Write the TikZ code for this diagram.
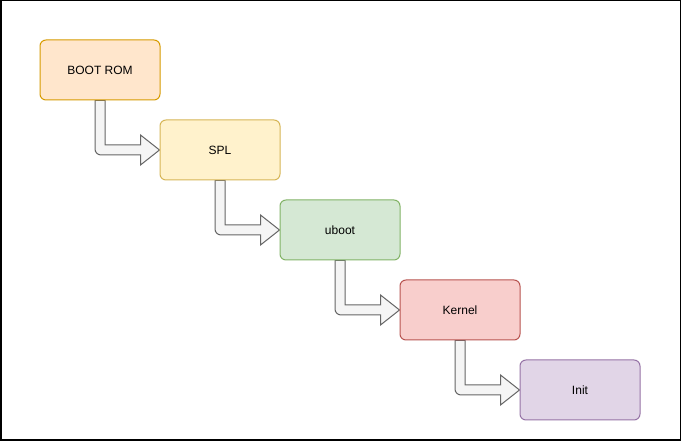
\documentclass[tikz,border=0pt]{standalone}
\usepackage{fontspec}
\setmainfont{Liberation Sans}
\usetikzlibrary{calc}
\definecolor{f1}{HTML}{FFE6CC}\definecolor{s1}{HTML}{D79B00}
\definecolor{f2}{HTML}{FFF2CC}\definecolor{s2}{HTML}{D6B656}
\definecolor{f3}{HTML}{D5E8D4}\definecolor{s3}{HTML}{82B366}
\definecolor{f4}{HTML}{F8CECC}\definecolor{s4}{HTML}{B85450}
\definecolor{f5}{HTML}{E1D5E7}\definecolor{s5}{HTML}{9673A6}
\definecolor{af}{HTML}{F5F5F5}\definecolor{as}{HTML}{666666}
\tikzset{
  stage/.style={draw, line width=1pt, rounded corners=6pt, minimum width=120pt, minimum height=60pt, inner sep=0pt, font=\fontsize{12}{14}\selectfont, text=black},
  flexarr/.style={fill=af, draw=as, line width=1pt, line join=miter},
}
\newcommand{\flexconn}[2]{%
  \path[flexarr] let \p1=(#1.south), \p2=(#2.west) in
    (\x1-5pt,\y1) -- (\x1-5pt,\y2-5pt+6pt)
    arc[start angle=180,end angle=270,radius=6pt]
    -- (\x2-19pt,\y2-5pt) -- (\x2-19pt,\y2-15pt) -- (\x2,\y2)
    -- (\x2-19pt,\y2+15pt) -- (\x2-19pt,\y2+5pt) -- (\x1+5pt,\y2+5pt)
    -- (\x1+5pt,\y1) -- cycle;}
\begin{document}
\begin{tikzpicture}[x=1pt,y=1pt]
\fill[white] (0,0) rectangle (681,441);
\useasboundingbox (0,0) rectangle (681,441);
\coordinate (c1) at (100,371);
\coordinate (c2) at (220,291);
\coordinate (c3) at (340,211);
\coordinate (c4) at (460,131);
\coordinate (c5) at (580,51);
% invisible placeholders for anchors
\path (c1) node[stage, draw=none] (bootrom) {}
      (c2) node[stage, draw=none] (spl) {}
      (c3) node[stage, draw=none] (uboot) {}
      (c4) node[stage, draw=none] (kernel) {}
      (c5) node[stage, draw=none] (init) {};
\flexconn{bootrom}{spl}
\flexconn{spl}{uboot}
\flexconn{uboot}{kernel}
\flexconn{kernel}{init}
\node[stage, fill=f1, draw=s1] at (c1) {BOOT ROM};
\node[stage, fill=f2, draw=s2] at (c2) {SPL};
\node[stage, fill=f3, draw=s3] at (c3) {uboot};
\node[stage, fill=f4, draw=s4] at (c4) {Kernel};
\node[stage, fill=f5, draw=s5] at (c5) {Init};
\draw[black, line width=1.5pt] (0.75,0.75) rectangle (680.25,440.25);
\end{tikzpicture}
\end{document}
